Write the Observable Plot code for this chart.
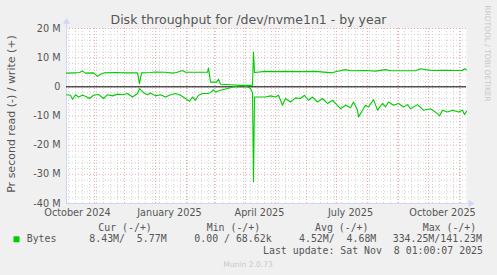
<!DOCTYPE html>
<html><head><meta charset="utf-8">
<script src="https://cdn.jsdelivr.net/npm/d3@7"></script>
<script src="https://cdn.jsdelivr.net/npm/@observablehq/plot@0.6"></script>
<style>
html,body{margin:0;padding:0;background:#f0f0f0;}
#chart{position:relative;width:497px;height:275px;overflow:hidden;}
svg{display:block;}
</style></head><body><div id="chart"></div>
<script>
// ---- data (MB/s) ----
const writeDates = ["2024-10-04","2024-10-12","2024-10-17","2024-10-20","2024-10-23","2024-10-31","2024-11-04","2024-11-07","2024-11-11","2024-11-22","2024-12-02","2024-12-14","2024-12-16","2024-12-18","2024-12-27","2025-01-01","2025-01-11","2025-01-18","2025-01-22","2025-01-28","2025-01-31","2025-02-10","2025-02-22","2025-02-23","2025-02-25","2025-03-03","2025-03-05","2025-03-07","2025-03-17","2025-03-27","2025-04-06","2025-04-08","2025-04-09","2025-04-10","2025-04-21","2025-05-01","2025-05-11","2025-05-26","2025-06-10","2025-06-27","2025-06-30","2025-07-10","2025-07-15","2025-07-30","2025-08-09","2025-08-19","2025-08-24","2025-09-01","2025-09-18","2025-09-23","2025-09-28","2025-10-05","2025-10-18","2025-10-28","2025-11-04","2025-11-06","2025-11-08"];
const writeValues = [4.7,4.8,4.9,5.4,4.7,4.8,3.6,4.3,4.8,4.9,4.8,4.8,1.1,4.8,4.9,5.1,5.0,4.7,4.9,5.6,5.0,5.0,5.0,6.4,1.6,1.6,2.6,0.9,0.7,0.5,0.5,0.6,11.9,4.9,5.3,5.2,5.3,5.2,5.3,4.8,5.2,5.9,5.5,5.6,5.4,5.9,5.5,5.5,5.5,6.2,5.9,5.6,5.7,5.6,5.6,6.2,5.8];
const readDates = ["2024-10-04","2024-10-08","2024-10-10","2024-10-13","2024-10-16","2024-10-20","2024-10-23","2024-10-27","2024-10-31","2024-11-05","2024-11-10","2024-11-14","2024-11-19","2024-11-24","2024-11-29","2024-12-04","2024-12-09","2024-12-14","2024-12-16","2024-12-20","2024-12-24","2024-12-27","2025-01-01","2025-01-06","2025-01-11","2025-01-16","2025-01-21","2025-01-26","2025-01-31","2025-02-04","2025-02-07","2025-02-10","2025-02-13","2025-02-17","2025-02-22","2025-02-25","2025-02-28","2025-03-02","2025-03-07","2025-03-14","2025-03-20","2025-03-25","2025-03-30","2025-04-03","2025-04-06","2025-04-08","2025-04-09","2025-04-10","2025-04-16","2025-04-21","2025-04-26","2025-05-01","2025-05-04","2025-05-08","2025-05-11","2025-05-16","2025-05-21","2025-05-26","2025-05-30","2025-06-03","2025-06-07","2025-06-12","2025-06-17","2025-06-22","2025-06-27","2025-06-30","2025-07-05","2025-07-10","2025-07-15","2025-07-18","2025-07-22","2025-07-23","2025-07-27","2025-07-30","2025-08-02","2025-08-07","2025-08-11","2025-08-16","2025-08-19","2025-08-22","2025-08-27","2025-09-01","2025-09-06","2025-09-10","2025-09-13","2025-09-20","2025-09-26","2025-10-03","2025-10-10","2025-10-12","2025-10-15","2025-10-20","2025-10-25","2025-10-31","2025-11-04","2025-11-06","2025-11-08"];
const readValues = [-2.7,-2.9,-4.3,-2.7,-3.5,-2.9,-3.2,-4.0,-2.9,-2.6,-4.0,-2.7,-3.1,-2.5,-2.7,-2.3,-3.5,-2.3,-0.6,-2.0,-2.7,-2.1,-3.1,-2.7,-3.5,-2.7,-2.3,-2.9,-4.0,-5.0,-3.5,-4.6,-2.9,-2.3,-2.3,-2.0,-1.0,-1.8,-1.2,-0.6,0.0,0.3,0.5,0.0,-0.6,-2.0,-32.5,-3.5,-3.5,-3.5,-3.1,-3.5,-2.9,-6.3,-4.0,-5.2,-3.8,-4.0,-2.9,-4.6,-3.5,-5.2,-4.0,-5.7,-4.6,-5.7,-7.5,-6.3,-7.2,-5.2,-8.0,-10.3,-8.0,-6.3,-6.9,-4.4,-8.0,-5.7,-6.9,-5.2,-6.3,-5.7,-6.9,-6.1,-7.5,-6.1,-8.0,-7.5,-9.2,-10.0,-8.0,-8.6,-8.0,-8.6,-8.0,-9.5,-8.4];
const yTicks = [-40,-30,-20,-10,0,10,20];
const xLabelDates = ["2024-10-15","2025-01-15","2025-04-15","2025-07-15","2025-10-15"];
const domainDates = ["2024-10-04","2025-11-08"];
const title = "Disk throughput for /dev/nvme1n1 - by year";
const yLabel = "Pr second read (-) / write (+)";
const seriesName = "Bytes";
const legendHeaders = ["Cur (-/+)","Min (-/+)","Avg (-/+)","Max (-/+)"];
const legendValues = ["8.43M/  5.77M","0.00 / 68.62k","4.52M/  4.68M","334.25M/141.23M"];
const lastUpdate = "Last update: Sat Nov  8 01:00:07 2025";
const version = "Munin 2.0.73";
const watermark = "RRDTOOL / TOBI OETIKER";

// ---- build ----
const start = new Date(domainDates[0]), end = new Date(domainDates[1]);
const write = writeDates.map((d,i)=>({date:new Date(d), value:writeValues[i]}));
const read = readDates.map((d,i)=>({date:new Date(d), value:readValues[i]}));
const weeks = d3.utcSunday.range(start, end);
const months = d3.utcMonth.range(start, end);
const minorY = d3.range(-40, 21, 2).filter(v => v % 10 !== 0);
const green = "#00cc00", axisCol = "#CFD6F8", minorCol = "#d4d4d4", majorCol = "#eeaaaa";
const arrowX = d3.utcDay.offset(end, 4);

const plot = Plot.plot({
  width: 497, height: 275,
  marginTop: 28, marginBottom: 72, marginLeft: 66, marginRight: 31,
  style: {background: "transparent", fontFamily: "DejaVu Sans", fontSize: "9.7px", color: "#555", overflow: "visible"},
  x: {type: "utc", domain: [start, end]},
  y: {domain: [-40, 20]},
  marks: [
    Plot.frame({fill: "white", stroke: null}),
    Plot.ruleY(minorY, {stroke: minorCol, strokeDasharray: "1,2"}),
    Plot.ruleX(weeks, {stroke: minorCol, strokeDasharray: "1,2"}),
    Plot.ruleY(yTicks, {stroke: majorCol, strokeDasharray: "1,2"}),
    Plot.ruleX(months, {stroke: majorCol, strokeDasharray: "1,2"}),
    Plot.axisY({ticks: yTicks, tickSize: 0, tickPadding: 6, tickFormat: v => v === 0 ? "0" : `${v} M`, label: null, fill: "#555"}),
    Plot.axisX({ticks: xLabelDates.map(d => new Date(d)), tickSize: 0, tickPadding: 6, tickFormat: d3.utcFormat("%B %Y"), label: null, fill: "#555"}),
    Plot.ruleX([start], {y1: -40, y2: 21.8, stroke: axisCol}),
    Plot.dot([start], {x: d => d, y: 22.3, symbol: "triangle", r: 2.6, fill: axisCol, stroke: null}),
    Plot.ruleY([-40], {x1: start, x2: d3.utcDay.offset(end, 3), stroke: axisCol}),
    Plot.dot([arrowX], {x: d => d, y: -40, symbol: "triangle", rotate: 90, r: 2.6, fill: axisCol, stroke: null}),
    Plot.ruleY([0], {stroke: "black", strokeWidth: 1}),
    Plot.line(read, {x: "date", y: "value", stroke: green, strokeWidth: 1.1}),
    Plot.line(write, {x: "date", y: "value", stroke: green, strokeWidth: 1.1})
  ]
});
document.getElementById("chart").appendChild(plot);

// ---- annotations (text) ----
const svg = d3.select(plot);
const sans = "DejaVu Sans", mono = "DejaVu Sans Mono";
function txt(t, x, y, opts) {
  const o = Object.assign({anchor: "start", family: sans, size: 9.9, fill: "#555"}, opts || {});
  const el = svg.append("text").text(t).attr("text-anchor", o.anchor)
    .attr("font-family", o.family).attr("font-size", o.size).attr("fill", o.fill)
    .style("white-space", "pre");
  if (o.transform) el.attr("transform", o.transform); else el.attr("x", x).attr("y", y);
  return el;
}
txt(title, 248.5, 23.8, {anchor: "middle", size: 12.5});
txt(yLabel, 0, 0, {anchor: "middle", size: 11, transform: "translate(14.5,114) rotate(-90)"});
txt(watermark, 0, 0, {anchor: "middle", size: 7.5, fill: "#c8c8c8", transform: "translate(485,53.5) rotate(90)"});
const hx = [98.3, 206.7, 315, 422.7];
legendHeaders.forEach((t,i) => txt(t, hx[i], 230.5, {family: mono}));
svg.append("rect").attr("x", 13.5).attr("y", 236.3).attr("width", 6).attr("height", 6).attr("fill", green);
txt(seriesName, 26.7, 242.3, {family: mono});
const vx = [89.3, 194.3, 299, 392.7];
legendValues.forEach((t,i) => txt(t, vx[i], 242.3, {family: mono}));
txt(lastUpdate, 483, 254.3, {family: mono, anchor: "end"});
txt(version, 248, 266.7, {anchor: "middle", size: 7.6, fill: "#c8c8c8"});
</script></body></html>
